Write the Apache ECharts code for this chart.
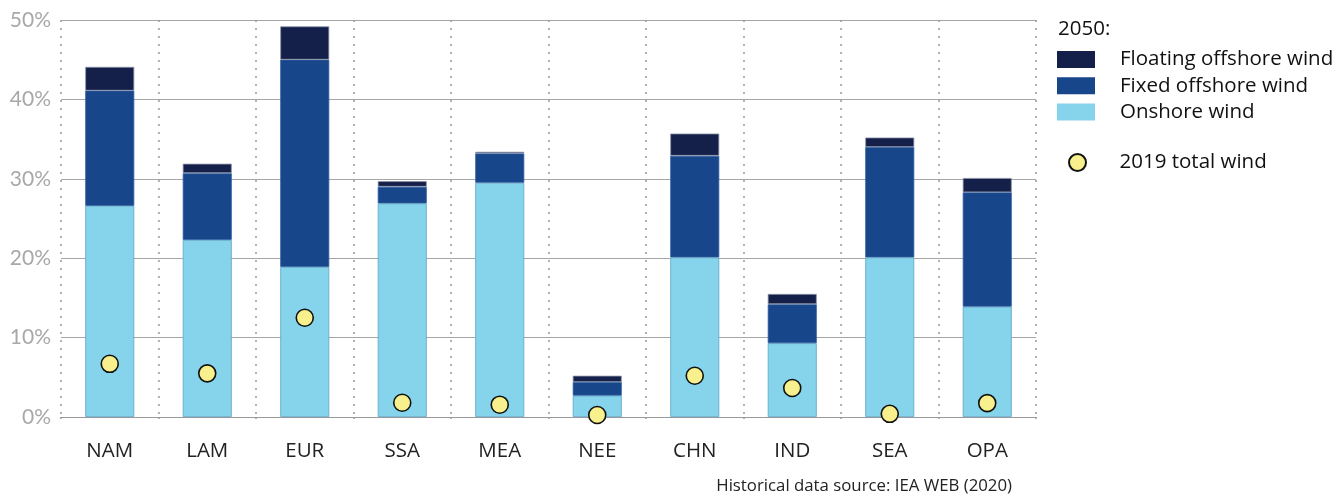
<!DOCTYPE html>
<html><head><meta charset="utf-8">
<script src="https://cdn.jsdelivr.net/npm/echarts@6/dist/echarts.min.js"></script>
<style>html,body{margin:0;padding:0;background:#fff}#c{width:1340px;height:496px}</style>
</head><body><div id="c"></div>
<script>
const categories = ['NAM','LAM','EUR','SSA','MEA','NEE','CHN','IND','SEA','OPA'];
const onshore  = [26.6, 22.3, 18.9, 26.9, 29.5, 2.7, 20.1, 9.3, 20.1, 13.9];
const fixedOff = [14.5, 8.4, 26.1, 2.1, 3.7, 1.7, 12.8, 4.9, 13.9, 14.4];
const floating = [3.0, 1.2, 4.2, 0.7, 0.2, 0.8, 2.8, 1.3, 1.2, 1.8];
const total2019 = [6.7, 5.5, 12.5, 1.8, 1.55, 0.25, 5.2, 3.65, 0.4, 1.75];
const yTicks = [0, 10, 20, 30, 40, 50];

const font = '"Open Sans", Lato, sans-serif';
const chart = echarts.init(document.getElementById('c'), null, {renderer:'canvas'});
chart.setOption({
  animation: false,
  textStyle: {fontFamily: font},
  grid: {left: 61, right: 304, top: 20, bottom: 79, containLabel: false},
  xAxis: {
    type: 'category', data: categories, boundaryGap: true,
    axisLine: {show: true, lineStyle: {color: '#999', width: 1}},
    axisTick: {show: true, length: 8, lineStyle: {color: '#999', type: [2, 6], width: 1.5}},
    splitLine: {show: true, lineStyle: {color: '#999', type: [2, 6], width: 1.5}},
    axisLabel: {color: '#222', fontSize: 20.5, margin: 24, fontFamily: font}
  },
  yAxis: {
    type: 'value', min: yTicks[0], max: yTicks[yTicks.length-1], interval: 10,
    axisLine: {show: false}, axisTick: {show: false},
    splitLine: {lineStyle: {color: '#a6a6a6', width: 1.2}},
    axisLabel: {color: '#a8a8a8', fontSize: 21, margin: 10, formatter: '{value}%', fontFamily: 'Lato, sans-serif'}
  },
  legend: [
    {
      data: [{name: 'Floating offshore wind', icon: 'rect'}, {name: 'Fixed offshore wind', icon: 'rect'}, {name: 'Onshore wind', icon: 'rect'}],
      orient: 'vertical', left: 1057, top: 49, padding: 0,
      itemWidth: 38, itemHeight: 17, itemGap: 5.3,
      itemStyle: {borderWidth: 0},
      textStyle: {fontSize: 20.5, lineHeight: 20, color: '#111', padding: [0,0,0,20], fontFamily: font},
      selectedMode: false
    },
    {
      data: [{name: '2019 total wind', icon: 'circle'}],
      orient: 'vertical', left: 1068, top: 152, padding: 0,
      itemWidth: 38, itemHeight: 17,
      textStyle: {fontSize: 20.5, lineHeight: 20, color: '#111', padding: [0,0,0,18], fontFamily: font},
      selectedMode: false
    }
  ],
  graphic: [
    {type: 'text', left: 1058, top: 19, style: {text: '2050:', fontSize: 20.5, fill: '#111', fontFamily: font}},
    {type: 'text', right: 328, top: 478, style: {text: 'Historical data source: IEA WEB (2020)', fontSize: 16.8, fill: '#222', fontFamily: font}}
  ],
  series: [
    {name: 'Onshore wind', type: 'bar', stack: 'w', data: onshore, barWidth: 49,
     itemStyle: {color: '#85d4eb', borderColor: '#5ea3c6', borderWidth: 0.8}},
    {name: 'Fixed offshore wind', type: 'bar', stack: 'w', data: fixedOff,
     itemStyle: {color: '#17468b', borderColor: '#2d5da0', borderWidth: 0.8}},
    {name: 'Floating offshore wind', type: 'bar', stack: 'w', data: floating,
     itemStyle: {color: '#142049', borderColor: '#8a93a8', borderWidth: 0.8}},
    {name: '2019 total wind', type: 'scatter', data: total2019, symbol: 'circle', symbolSize: 17, z: 5,
     itemStyle: {color: '#f7f08d', borderColor: '#111', borderWidth: 1.6, opacity: 1}}
  ]
});
</script></body></html>
